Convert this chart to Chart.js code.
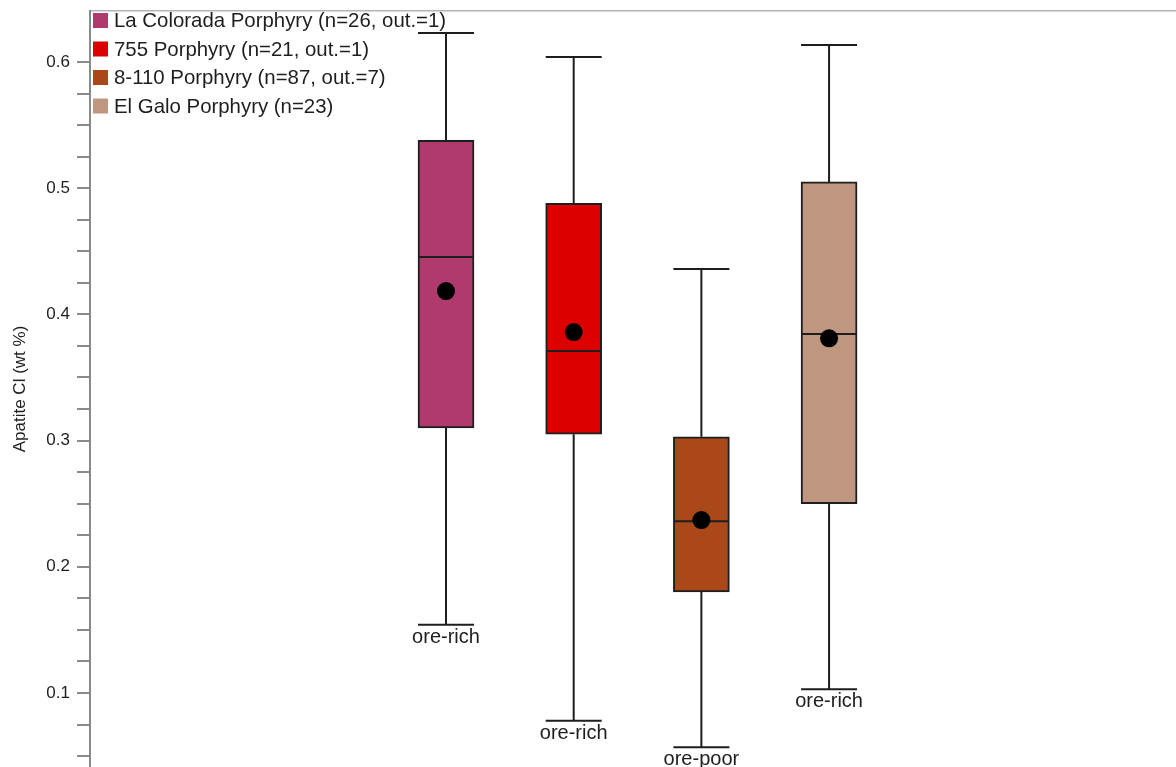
<!DOCTYPE html>
<html>
<head>
<meta charset="utf-8">
<title>Apatite Cl by porphyry</title>
<script src="https://cdn.jsdelivr.net/npm/chart.js@4.4.1/dist/chart.umd.min.js"></script>
<style>
  html, body { margin: 0; padding: 0; background: #ffffff; }
  #wrap { width: 1176px; height: 767px; }
</style>
</head>
<body>
<div id="wrap"><canvas id="c" width="1176" height="767"></canvas></div>
<script>
// Groups and their box-plot statistics (Apatite Cl, wt %)
const groups = ['La Colorada Porphyry', '755 Porphyry', '8-110 Porphyry', 'El Galo Porphyry'];
const legendLabels = [
  'La Colorada Porphyry (n=26, out.=1)',
  '755 Porphyry (n=21, out.=1)',
  '8-110 Porphyry (n=87, out.=7)',
  'El Galo Porphyry (n=23)'
];
const groupPositions = [1, 2, 3, 4];
const whiskerLow  = [0.154, 0.078, 0.057, 0.103];
const quartile1   = [0.310, 0.305, 0.180, 0.250];
const medians     = [0.4455, 0.371, 0.236, 0.3845];
const quartile3   = [0.538, 0.488, 0.303, 0.505];
const whiskerHigh = [0.623, 0.604, 0.436, 0.6135];
const means       = [0.4185, 0.386, 0.237, 0.381];
const oreLabels   = ['ore-rich', 'ore-rich', 'ore-poor', 'ore-rich'];

// Y axis ticks: labelled majors and unlabelled minors
const yMajorTicks = [0.1, 0.2, 0.3, 0.4, 0.5, 0.6];
const yTickLabels = ['0.1', '0.2', '0.3', '0.4', '0.5', '0.6'];
const yMinorTicks = [0.05, 0.075, 0.125, 0.15, 0.175, 0.225, 0.25, 0.275, 0.325, 0.35, 0.375,
                     0.425, 0.45, 0.475, 0.525, 0.55, 0.575];

const groupColors = ['#b03a6e', '#dc0000', '#aa4819', '#bf9680'];
const FONT = '"Liberation Sans", Arial, sans-serif';
const INK = '#1e1e1e';

// Whiskers behind the boxes, medians on top of them, labels and legend last
const boxPlotExtras = {
  id: 'boxPlotExtras',
  beforeDatasetsDraw(chart) {
    const { ctx, scales: { x, y } } = chart;
    const half = 28;
    ctx.save();
    ctx.strokeStyle = INK;
    ctx.lineWidth = 2;
    groupPositions.forEach((p, i) => {
      const px = x.getPixelForValue(p);
      const lo = y.getPixelForValue(whiskerLow[i]);
      const hi = y.getPixelForValue(whiskerHigh[i]);
      const b1 = y.getPixelForValue(quartile1[i]);
      const b3 = y.getPixelForValue(quartile3[i]);
      ctx.beginPath();
      ctx.moveTo(px, lo); ctx.lineTo(px, b1);
      ctx.moveTo(px, b3); ctx.lineTo(px, hi);
      ctx.moveTo(px - half, lo); ctx.lineTo(px + half, lo);
      ctx.moveTo(px - half, hi); ctx.lineTo(px + half, hi);
      ctx.stroke();
    });
    ctx.restore();
  },
  afterDatasetDraw(chart, args) {
    if (chart.data.datasets[args.index].type !== 'bar') return;
    const { ctx, scales: { x, y } } = chart;
    const half = 27;
    ctx.save();
    ctx.strokeStyle = INK;
    ctx.lineWidth = 2;
    groupPositions.forEach((p, i) => {
      const px = x.getPixelForValue(p);
      const py = y.getPixelForValue(medians[i]);
      ctx.beginPath();
      ctx.moveTo(px - half, py); ctx.lineTo(px + half, py);
      ctx.stroke();
    });
    ctx.restore();
  },
  afterDraw(chart) {
    const { ctx, scales: { x, y } } = chart;
    ctx.save();
    // deposit type under each lower whisker
    ctx.fillStyle = INK;
    ctx.font = '20px ' + FONT;
    ctx.textAlign = 'center';
    ctx.textBaseline = 'alphabetic';
    groupPositions.forEach((p, i) => {
      ctx.fillText(oreLabels[i], x.getPixelForValue(p), y.getPixelForValue(whiskerLow[i]) + 18);
    });
    // legend in the top-left corner of the plot
    const left = chart.chartArea.left + 3;
    const top = chart.chartArea.top + 2;
    const rowH = 28.5;
    ctx.font = '20.4px ' + FONT;
    ctx.textAlign = 'left';
    ctx.textBaseline = 'middle';
    legendLabels.forEach((label, i) => {
      const cy = top + 7.5 + i * rowH;
      ctx.fillStyle = groupColors[i];
      ctx.fillRect(left, cy - 7.5, 15, 15);
      ctx.fillStyle = INK;
      ctx.fillText(label, left + 21, cy + 1);
    });
    ctx.restore();
  }
};

const boxData = groupPositions.map((p, i) => ({ x: p, y: [quartile1[i], quartile3[i]] }));
const meanData = groupPositions.map((p, i) => ({ x: p, y: means[i] }));

new Chart(document.getElementById('c'), {
  type: 'bar',
  data: {
    datasets: [
      {
        type: 'scatter',
        label: 'Mean',
        data: meanData,
        pointRadius: 9,
        pointBackgroundColor: '#000000',
        pointBorderColor: '#000000',
        pointBorderWidth: 0
      },
      {
        type: 'bar',
        label: 'Interquartile range',
        data: boxData,
        backgroundColor: groupColors,
        borderColor: INK,
        borderWidth: 2,
        borderSkipped: false,
        barThickness: 56
      }
    ]
  },
  options: {
    responsive: false,
    animation: false,
    devicePixelRatio: 1,
    layout: { autoPadding: false, padding: { top: 11, left: 0, right: 0, bottom: 0 } },
    plugins: {
      legend: { display: false },
      tooltip: { enabled: false }
    },
    scales: {
      x: {
        type: 'linear',
        position: 'top',
        offset: false,
        min: -1.788,
        max: 6.717,
        ticks: { display: false },
        grid: { display: true, offset: false, drawOnChartArea: false, drawTicks: false },
        border: { display: true, color: '#b4b4b4', width: 1.5 },
        afterFit: (s) => { s.height = 0; s.paddingLeft = 0; s.paddingRight = 0; }
      },
      y: {
        type: 'linear',
        position: 'left',
        min: 0.04136,
        max: 0.64041,
        afterBuildTicks: (s) => {
          s.ticks = yMajorTicks.concat(yMinorTicks).sort((a, b) => a - b).map(v => ({ value: v }));
        },
        afterFit: (s) => { s.width = 90; s.paddingTop = 0; s.paddingBottom = 0; },
        ticks: {
          autoSkip: false,
          padding: 7,
          color: INK,
          font: { family: FONT, size: 17 },
          callback: (v) => {
            const k = yMajorTicks.findIndex(m => Math.abs(m - v) < 1e-9);
            return k >= 0 ? yTickLabels[k] : '';
          }
        },
        grid: {
          display: true,
          drawOnChartArea: false,
          drawTicks: true,
          tickLength: 13,
          color: '#8a8a8a',
          lineWidth: 2
        },
        border: { display: true, color: '#8a8a8a', width: 2 },
        title: {
          display: true,
          text: 'Apatite Cl (wt %)',
          color: INK,
          font: { family: FONT, size: 17 },
          padding: { top: 10, bottom: 0 }
        }
      }
    }
  },
  plugins: [boxPlotExtras]
});
</script>
</body>
</html>
